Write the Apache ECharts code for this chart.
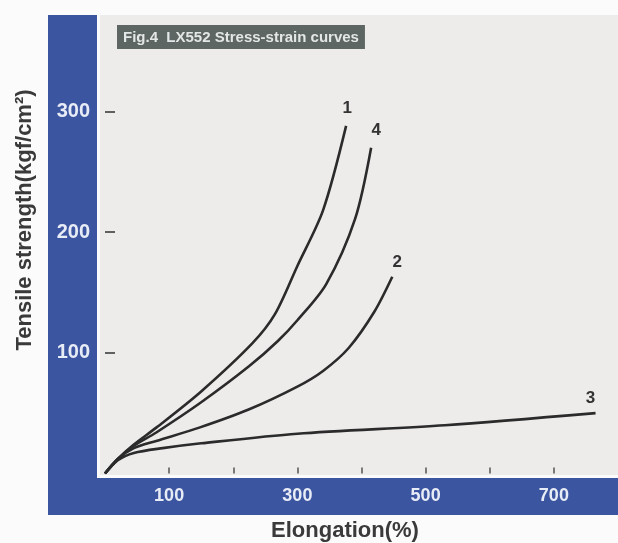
<!DOCTYPE html>
<html>
<head>
<meta charset="utf-8">
<script src="https://cdn.jsdelivr.net/npm/echarts@6/dist/echarts.min.js"></script>
<style>html,body{margin:0;padding:0;background:#fbfbfb;}#c{width:618px;height:543px;}</style>
</head>
<body>
<div id="c"></div>
<script>
// Curve data (x: elongation %, y: kgf/cm²)
const c1x = [0, 20, 45, 80, 150, 230, 265, 300, 340, 376];
const c1y = [0, 12, 24, 38, 68, 108, 132, 172, 218, 288];
const c4x = [0, 20, 45, 80, 150, 225, 270, 300, 345, 390, 415];
const c4y = [0, 12, 23, 34, 59, 89, 110, 127, 157, 211, 270];
const c2x = [0, 20, 45, 80, 147, 224, 300, 340, 380, 420, 448];
const c2y = [0, 12, 21, 27, 38, 53, 72, 85, 104, 134, 163];
const c3x = [0, 20, 45, 90, 150, 300, 530, 765];
const c3y = [0, 11, 17, 21, 25, 33, 40, 50];
const curveNames = ['1', '4', '2', '3'];
const xTicks = [100, 200, 300, 400, 500, 600, 700];
const xTickLabels = [100, 300, 500, 700];
const yTicks = [100, 200, 300];

const zip = (xs, ys) => xs.map((x, i) => [x, ys[i]]);
const curves = [zip(c1x, c1y), zip(c4x, c4y), zip(c2x, c2y), zip(c3x, c3y)];
const labelOffsets = [[1, -9], [5, -9], [5, -6], [-5, -6]];

const chart = echarts.init(document.getElementById('c'));
chart.setOption({
  animation: false,
  backgroundColor: '#fbfbfb',
  title: {
    text: 'Fig.4  LX552 Stress-strain curves',
    left: 117, top: 25,
    padding: [5, 6, 4, 6],
    backgroundColor: '#5d6663',
    textStyle: { color: '#e4e7e7', fontSize: 15, fontWeight: 'bold', fontFamily: 'Liberation Sans' }
  },
  graphic: [
    { type: 'rect', z: -10, shape: { x: 100, y: 15, width: 518, height: 460 }, style: { fill: '#eeebeb' } },
    { type: 'rect', z: -10, shape: { x: 48, y: 15, width: 49, height: 500 }, style: { fill: '#3b55a0' } },
    { type: 'rect', z: -10, shape: { x: 48, y: 478, width: 570, height: 37 }, style: { fill: '#3b55a0' } },
    { type: 'text', x: 25, y: 220, rotation: Math.PI / 2,
      style: { text: 'Tensile strength(kgf/cm²)', fill: '#3a3a3a', font: 'bold 22px "Liberation Sans"', align: 'center', verticalAlign: 'middle' } },
    { type: 'text', x: 345, y: 531,
      style: { text: 'Elongation(%)', fill: '#3a3a3a', font: 'bold 22px "Liberation Sans"', align: 'center', verticalAlign: 'middle' } }
  ],
  grid: { left: 105, right: -5, top: 14.9, bottom: 69.5 },
  xAxis: {
    type: 'value', min: 0, max: 800, z: 10,
    splitLine: { show: false },
    axisLine: { show: false },
    axisTick: { show: true, inside: true, length: 6, customValues: xTicks, lineStyle: { color: '#555', width: 1.5 } },
    axisLabel: { customValues: xTickLabels, margin: 14, color: '#e8ecf6', fontSize: 18, fontWeight: 'bold', fontFamily: 'Liberation Sans' }
  },
  yAxis: {
    type: 'value', min: 0, max: 380, z: 10,
    splitLine: { show: false },
    axisLine: { show: false },
    axisTick: { show: true, inside: true, length: 10, customValues: yTicks, lineStyle: { color: '#333', width: 1.5 } },
    axisLabel: { customValues: yTicks, margin: 15, color: '#e8ecf6', fontSize: 20, fontWeight: 'bold', fontFamily: 'Liberation Sans' }
  },
  series: curves.map((d, i) => ({
    name: curveNames[i],
    type: 'line',
    data: d,
    smooth: 0.3,
    showSymbol: false,
    symbol: 'none',
    lineStyle: { color: '#2b2b2b', width: 2.6 },
    endLabel: {
      show: true, formatter: '{a}', align: 'center', verticalAlign: 'bottom',
      offset: labelOffsets[i], distance: 0,
      color: '#333', fontSize: 17, fontWeight: 'bold', fontFamily: 'Liberation Sans'
    }
  }))
});
</script>
</body>
</html>
